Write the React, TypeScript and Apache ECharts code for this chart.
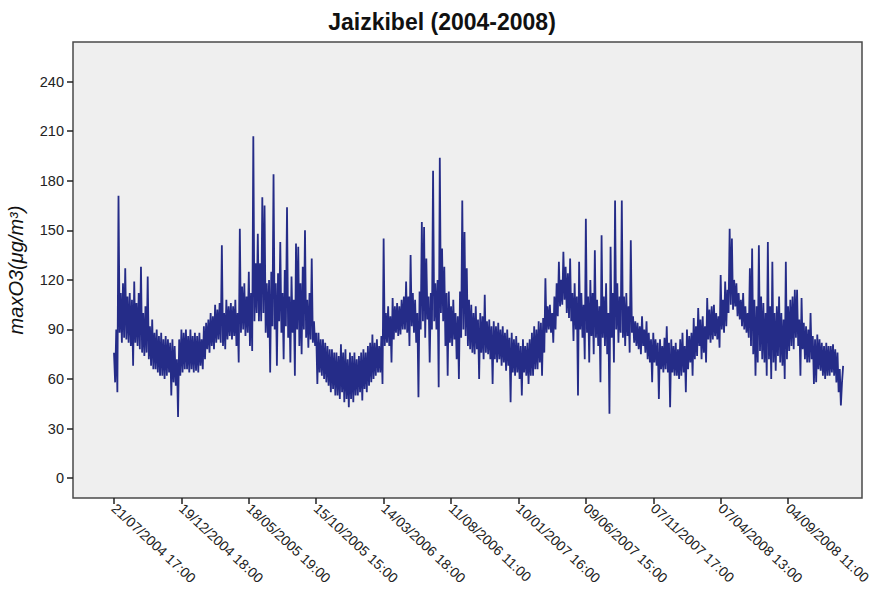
import React, { useEffect, useRef } from 'react';
import * as echarts from 'echarts';

// Tick labels on the time axis (one every 30 steps of 5 days = 150 days)
const tickLabels = [
  '21/07/2004 17:00', '19/12/2004 18:00', '18/05/2005 19:00', '15/10/2005 15:00',
  '14/03/2006 18:00', '11/08/2006 11:00', '10/01/2007 16:00', '09/06/2007 15:00',
  '07/11/2007 17:00', '07/04/2008 13:00', '04/09/2008 11:00',
];
const stepsPerTick = 30;
const samplesPerStep = 2;
const yTicks = [0, 30, 60, 90, 120, 150, 180, 210, 240];

// maxO3 values: two samples (upper / lower part of the
// daily band, or a spike / dip) for every 5-day step
const o3Part1 = [
  76, 58, 90, 52, 171, 88, 112, 82, 118, 85,
  127, 84, 110, 82, 112, 80, 108, 68, 119, 82,
  106, 80, 112, 78, 128, 76, 100, 74, 104, 76,
  122, 72, 92, 68, 96, 66, 88, 66, 90, 64,
  86, 62, 88, 62, 84, 60, 86, 62, 84, 64,
  82, 50, 84, 58, 80, 56, 72, 37, 84, 62,
  90, 64, 88, 66, 90, 66, 86, 64, 90, 66,
  86, 64, 88, 65, 86, 64, 88, 68, 84, 66,
  92, 72, 94, 78, 96, 76, 100, 80, 98, 78,
  105, 82, 102, 84, 106, 82, 141, 80, 100, 78,
  108, 84, 104, 86, 106, 84, 104, 86, 108, 80,
  100, 70, 151, 88, 116, 90, 118, 86, 110, 88,
  125, 80, 112, 77, 207, 95, 130, 100, 148, 95,
];
const o3Part2 = [
  130, 95, 170, 100, 165, 88, 118, 85, 120, 64,
  125, 92, 184, 90, 118, 68, 124, 95, 143, 88,
  112, 72, 126, 92, 164, 85, 110, 70, 122, 88,
  108, 62, 142, 90, 140, 80, 118, 75, 128, 90,
  150, 85, 108, 79, 112, 84, 133, 82, 95, 80,
  88, 57, 88, 64, 84, 62, 84, 60, 82, 58,
  80, 56, 78, 52, 78, 54, 76, 50, 76, 50,
  74, 48, 81, 52, 76, 46, 78, 48, 72, 43,
  76, 48, 74, 46, 76, 50, 72, 50, 74, 52,
  76, 47, 78, 54, 76, 52, 80, 56, 82, 58,
  87, 60, 82, 62, 84, 64, 80, 64, 86, 57,
  145, 80, 100, 82, 104, 80, 98, 70, 109, 84,
  104, 88, 106, 86, 104, 87, 108, 90, 110, 90,
];
const o3Part3 = [
  119, 88, 110, 80, 135, 92, 112, 88, 108, 82,
  100, 49, 113, 90, 155, 95, 152, 85, 133, 96,
  110, 70, 112, 90, 186, 95, 118, 90, 120, 55,
  194, 100, 139, 95, 128, 80, 112, 62, 113, 82,
  104, 80, 108, 84, 100, 72, 98, 60, 113, 85,
  168, 90, 149, 86, 127, 80, 108, 78, 105, 76,
  100, 75, 104, 78, 96, 60, 100, 76, 98, 72,
  111, 76, 95, 75, 96, 72, 92, 57, 95, 72,
  92, 70, 94, 72, 90, 68, 92, 70, 88, 65,
  90, 68, 85, 46, 88, 64, 84, 62, 86, 64,
  82, 60, 80, 50, 84, 64, 80, 62, 82, 57,
  84, 62, 88, 62, 92, 66, 90, 66, 95, 70,
  94, 62, 97, 76, 121, 88, 104, 90, 105, 88,
];
const o3Part4 = [
  100, 82, 110, 90, 118, 98, 131, 104, 120, 105,
  137, 108, 128, 100, 124, 97, 133, 95, 112, 83,
  118, 90, 110, 50, 131, 90, 112, 85, 105, 72,
  157, 88, 110, 70, 120, 86, 112, 75, 138, 85,
  108, 80, 104, 58, 147, 85, 110, 80, 118, 75,
  100, 39, 140, 85, 112, 70, 168, 90, 118, 82,
  110, 88, 168, 85, 110, 80, 112, 86, 104, 76,
  144, 88, 98, 82, 95, 80, 94, 78, 92, 75,
  98, 80, 90, 76, 95, 72, 88, 70, 84, 58,
  88, 70, 84, 68, 82, 48, 84, 66, 80, 64,
  85, 66, 92, 64, 82, 43, 84, 64, 80, 62,
  82, 62, 78, 60, 84, 62, 88, 64, 80, 52,
  90, 66, 86, 70, 88, 62, 97, 72, 92, 74,
];
const o3Part5 = [
  103, 80, 96, 72, 98, 76, 92, 70, 109, 84,
  102, 82, 104, 84, 105, 86, 100, 84, 98, 79,
  123, 90, 108, 88, 119, 92, 114, 100, 151, 105,
  145, 102, 120, 104, 118, 98, 112, 96, 108, 92,
  112, 90, 104, 88, 100, 85, 127, 80, 139, 75,
  108, 62, 104, 70, 141, 77, 110, 72, 106, 70,
  100, 62, 143, 72, 104, 60, 131, 70, 100, 65,
  104, 74, 110, 70, 100, 68, 96, 60, 131, 72,
  104, 77, 108, 80, 110, 78, 114, 85, 114, 80,
  96, 62, 109, 78, 94, 72, 92, 70, 90, 70,
  100, 72, 86, 57, 84, 58, 87, 66, 84, 65,
  82, 62, 80, 60, 82, 62, 80, 62, 80, 64,
  81, 62, 78, 58, 76, 52, 66, 44, 58, 68,
];

export default function App() {
  const ref = useRef<HTMLDivElement>(null);
  useEffect(() => {
    document.body.style.margin = '0';
    const chart = echarts.init(ref.current as HTMLDivElement, null, { renderer: 'svg' });
    const values = [...o3Part1, ...o3Part2, ...o3Part3, ...o3Part4, ...o3Part5];
    const data = values.map((v, j) => [j / samplesPerStep, v]);
    const xTicks = tickLabels.map((_, k) => k * stepsPerTick);
    const font = 'Liberation Sans, Arial, sans-serif';
    chart.setOption({
      animation: false,
      backgroundColor: '#ffffff',
      title: {
        text: 'Jaizkibel (2004-2008)',
        left: 437,
        textAlign: 'center',
        top: 5,
        textStyle: { fontFamily: font, fontWeight: 'bold', fontSize: 23, color: '#111' },
      },
      grid: {
        left: 73, right: 18, top: 42, bottom: 91,
        show: true, backgroundColor: '#efefef', borderColor: '#4a4a4a', borderWidth: 1.5,
        containLabel: false,
        outerBoundsMode: 'none',
      },
      xAxis: {
        type: 'value',
        min: -18.25,
        max: 332.9,
        axisLine: { show: false, onZero: false },
        splitLine: { show: false },
        axisTick: { show: true, customValues: xTicks, length: 6, lineStyle: { color: '#222', width: 1.5 } },
        axisLabel: {
          customValues: xTicks,
          rotate: -43,
          margin: 8,
          fontFamily: font,
          fontSize: 14,
          color: '#222',
          hideOverlap: false,
          formatter: (v: number) => tickLabels[Math.round(v / stepsPerTick)] ?? '',
        },
      },
      yAxis: {
        type: 'value',
        min: -12,
        max: 264,
        name: 'maxO3(μg/m³)',
        nameLocation: 'middle',
        nameGap: 47,
        nameRotate: 90,
        nameTextStyle: { fontFamily: font, fontStyle: 'italic', fontSize: 20, color: '#111' },
        axisLine: { show: false, onZero: false },
        splitLine: { show: false },
        axisTick: { show: true, customValues: yTicks, length: 6, lineStyle: { color: '#222', width: 1.5 } },
        axisLabel: { customValues: yTicks, margin: 9, fontFamily: font, fontSize: 14.5, color: '#222' },
      },
      series: [
        {
          type: 'line',
          data,
          symbol: 'none',
          showSymbol: false,
          lineStyle: { color: '#252c88', width: 1.8 },
        },
      ],
    });
    return () => chart.dispose();
  }, []);
  return <div ref={ref} style={{ width: 880, height: 589 }} />;
}
